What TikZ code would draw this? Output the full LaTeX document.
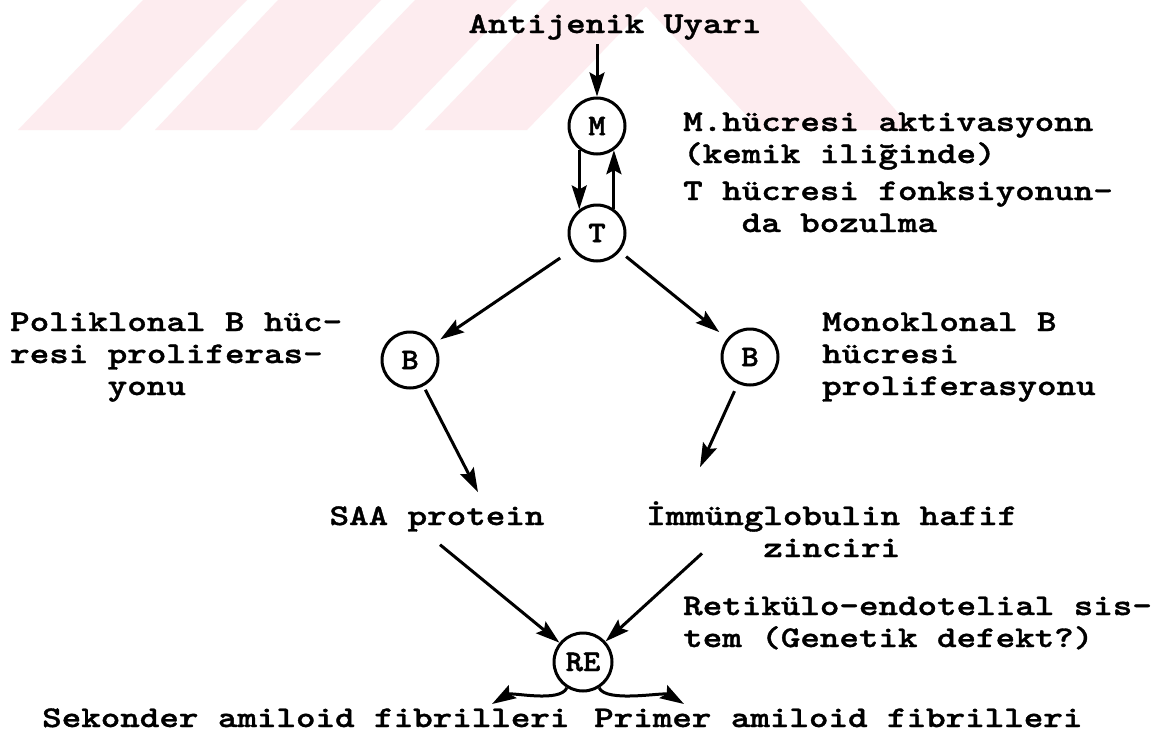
\documentclass[tikz,border=0pt]{standalone}
\usepackage{fontspec}
\newfontfamily\tw{lmmonolt10-bold.otf}[FakeStretch=1.24,FakeBold=1.2]
\newfontfamily\twc{lmmonolt10-bold.otf}[FakeStretch=1.1,FakeBold=1.5]
\usetikzlibrary{arrows.meta,calc}
\definecolor{wm}{RGB}{253,236,239}
\begin{document}
\begin{tikzpicture}[x=1pt,y=-1pt,
  lbl/.style={inner sep=0pt, font=\tw\fontsize{30}{32}\selectfont, align=left},
  cell/.style={circle, draw, line width=3pt, minimum size=56pt, inner sep=0pt,
    font=\twc\fontsize{30}{30}\selectfont},
  arr/.style={line width=3pt, -{Stealth[length=24pt,width=15pt,inset=4pt]}},
  wmark/.style={fill=wm, draw=none}
]
\useasboundingbox (0,0) rectangle (1170,734);
\fill[white] (0,0) rectangle (1170,734);
% watermark stripes
\fill[wmark] (18,130) -- (120,130) -- (247,0) -- (143,0) -- cycle;
\fill[wmark] (155,130) -- (257,130) -- (381,0) -- (278,0) -- cycle;
\fill[wmark] (290,130) -- (392,130) -- (517,0) -- (415,0) -- cycle;
\fill[wmark] (425,130) -- (527,130) -- (652,0) -- (550,0) -- cycle;
\fill[wmark] (640,0) -- (800,0) -- (913,130) -- (760,130) -- cycle;

% nodes
\node[lbl, anchor=base] (ant) at (615,33) {Antijenik Uyarı};
\node[cell] (M) at (597,126) {M};
\node[cell] (T) at (597,233) {T};
\node[cell] (BL) at (410,360) {B};
\node[cell] (BR) at (750,357) {B};
\node[cell, minimum size=58pt] (RE) at (583,662) {RE};

% multi-line nodes: base anchor sits on the last line
\node[lbl, anchor=base west] (mtxt) at (683,163) {M.hücresi aktivasyonn\\(kemik iliğinde)};
\node[lbl, anchor=base west] (ttxt) at (683,232) {T hücresi fonksiyonun-\\\hspace*{58.5pt}da bozulma};
\node[lbl, anchor=base west] (poli) at (10,395) {Poliklonal B hüc-\\resi proliferas-\\\hspace*{97.5pt}yonu};
\node[lbl, anchor=base west] (mono) at (822,395) {Monoklonal B\\hücresi\\proliferasyonu};
\node[lbl, anchor=base] (SAA) at (437,525) {SAA protein};
\node[lbl, anchor=base west, align=center] (IMM) at (646,557) {İmmünglobulin hafif\\zinciri};
\node[lbl, anchor=base west] (retx) at (683,647) {Retikülo-endotelial sis-\\tem (Genetik defekt?)};
\node[lbl, anchor=base west] (sek) at (42,727) {Sekonder amiloid fibrilleri};
\node[lbl, anchor=base west] (pri) at (594,727) {Primer amiloid fibrilleri};
\coordinate (sekIn) at (492,704);
\coordinate (priIn) at (684,704);

% connectors
\draw[arr, shorten <=4pt] (ant.south -| M) -- (M.north);
\draw[arr] (M.233) -- (T.127);
\draw[arr] (T.55) -- (M.305);
\draw[arr, shorten <=15pt, shorten >=7pt] (T) -- (BL);
\draw[arr, shorten <=8pt, shorten >=10pt] (T) -- (BR);
\draw[arr, shorten <=4pt] (BL) -- ([xshift=41pt,yshift=14pt]SAA.north);
\draw[arr, shorten <=8pt] (BR) -- ([xshift=54pt,yshift=34pt]IMM.north west);
\draw[arr] ([xshift=3pt,yshift=-13pt]SAA.south) -- (RE);
\draw[arr] ([xshift=56pt,yshift=4pt]IMM.south west) -- (RE);
\draw[arr] (RE.238) .. controls (560,703) and (512,692) .. (sekIn);
\draw[arr] (RE.302) .. controls (606,703) and (664,692) .. (priIn);
\end{tikzpicture}
\end{document}
